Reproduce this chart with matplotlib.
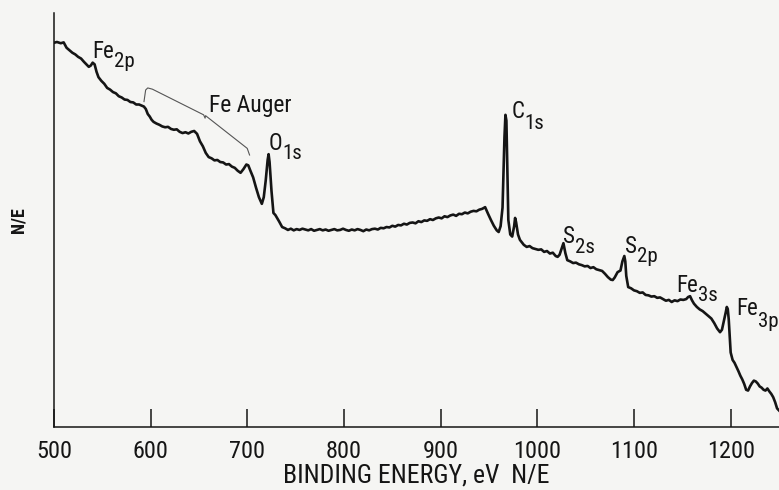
from matplotlib import pyplot as plt
from matplotlib import font_manager as fm

# spectrum (binding energy in eV, N/E in arbitrary units)
energia = [
    500, 503, 507, 510, 513, 516, 519, 522, 525, 528, 531, 534, 536, 538, 540, 542, 544, 546, 549,
    552, 555, 558, 561, 564, 567, 570, 573, 576, 579, 582, 585, 588, 591, 593, 595, 597, 599, 601,
    603, 606, 609, 612, 615, 618, 621, 624, 627, 630, 633, 636, 639, 642, 645, 648, 651, 654, 657,
    660, 663, 666, 669, 672, 675, 678, 681, 684, 687, 690, 693, 696, 699, 701, 703, 706, 709, 712,
    715, 717, 719, 721, 722, 723, 725, 727, 729, 731, 733, 736, 739, 742, 745, 748, 751, 754, 757,
    760, 763, 766, 769, 772, 775, 778, 781, 784, 787, 790, 793, 796, 799, 802, 805, 808, 811, 814,
    817, 820, 823, 826, 829, 832, 835, 838, 841, 844, 847, 850, 853, 856, 859, 862, 865, 868, 871,
    874, 877, 880, 883, 886, 889, 892, 895, 898, 901, 904, 907, 910, 913, 916, 919, 922, 925, 928,
    931, 934, 937, 940, 943, 946, 949, 952, 955, 958, 960, 962, 964, 965, 966, 967, 968, 969, 970,
    972, 974, 976, 977, 978, 980, 982, 984, 986, 989, 992, 995, 998, 1001, 1004, 1007, 1010, 1013,
    1016, 1019, 1021, 1023, 1025, 1027, 1029, 1031, 1034, 1037, 1040, 1043, 1046, 1049, 1052, 1055,
    1058, 1061, 1064, 1067, 1070, 1073, 1076, 1078, 1080, 1083, 1086, 1088, 1090, 1091, 1092, 1094,
    1097, 1100, 1103, 1106, 1109, 1112, 1115, 1118, 1121, 1124, 1127, 1130, 1133, 1136, 1139, 1142,
    1145, 1148, 1151, 1154, 1156, 1158, 1160, 1162, 1165, 1168, 1171, 1174, 1177, 1180, 1183, 1186,
    1189, 1191, 1193, 1195, 1196, 1197, 1198, 1199, 1200, 1202, 1204, 1206, 1208, 1210, 1212, 1214,
    1216, 1218, 1220, 1222, 1224, 1226, 1228, 1230, 1232, 1234, 1236, 1238, 1240, 1242, 1244, 1246,
    1248, 1250,
]

intensidade = [
    92.8, 93.0, 92.7, 92.9, 91.6, 91.0, 90.4, 90.0, 89.4, 89.0, 88.2, 87.5, 87.0, 87.3, 88.0, 87.6,
    85.8, 84.5, 83.6, 82.9, 81.9, 81.5, 80.9, 80.6, 79.9, 79.6, 79.1, 79.0, 78.5, 78.4, 77.9, 77.9,
    77.6, 77.4, 76.8, 75.6, 75.0, 74.2, 73.7, 73.3, 73.0, 72.6, 72.4, 72.5, 72.0, 71.8, 71.9, 71.3,
    71.0, 71.2, 70.9, 71.3, 71.5, 70.8, 69.0, 67.8, 66.2, 65.2, 64.9, 64.4, 64.5, 64.0, 63.9, 63.4,
    63.5, 62.9, 62.6, 61.9, 61.4, 62.3, 63.4, 63.2, 62.0, 60.3, 57.8, 55.5, 53.9, 55.5, 59.5, 64.5,
    65.9, 64.0, 57.0, 51.7, 51.2, 50.4, 49.6, 48.3, 48.0, 47.6, 47.9, 47.5, 47.8, 47.6, 47.9, 47.7,
    47.5, 47.8, 47.4, 47.6, 47.8, 47.5, 47.7, 47.4, 47.6, 47.8, 47.5, 47.6, 47.9, 47.6, 47.4, 47.7,
    47.5, 47.8, 47.6, 47.3, 47.7, 47.5, 47.8, 47.9, 47.7, 48.1, 48.0, 48.3, 48.2, 48.6, 48.4, 48.8,
    48.7, 49.1, 48.9, 49.3, 49.4, 49.2, 49.7, 49.5, 49.9, 49.8, 50.2, 50.0, 50.4, 50.6, 50.4, 50.9,
    50.7, 51.1, 51.3, 51.0, 51.5, 51.4, 51.8, 51.6, 52.0, 52.2, 52.1, 52.5, 52.7, 53.1, 51.5, 50.0,
    48.6, 47.5, 47.1, 48.5, 53.0, 62.0, 70.0, 75.4, 74.0, 62.0, 50.0, 46.5, 46.0, 48.5, 50.5, 49.5,
    46.5, 45.2, 44.6, 44.0, 43.5, 43.7, 43.2, 43.0, 42.8, 42.9, 42.3, 42.5, 41.9, 42.1, 41.3, 41.1,
    41.6, 43.0, 44.4, 42.0, 40.3, 40.0, 39.6, 39.7, 39.3, 39.1, 38.8, 38.9, 38.4, 38.6, 38.1, 37.9,
    37.7, 37.0, 36.2, 35.6, 35.5, 36.1, 37.4, 37.8, 40.0, 41.3, 40.0, 36.5, 33.8, 33.5, 33.0, 32.8,
    32.4, 32.5, 31.9, 31.8, 31.5, 31.6, 31.2, 31.3, 30.9, 30.5, 30.7, 30.2, 30.6, 30.4, 30.8, 30.7,
    30.9, 31.4, 31.6, 30.6, 29.8, 29.0, 28.4, 28.0, 27.4, 26.8, 26.2, 25.1, 23.8, 22.9, 23.5, 25.6,
    27.8, 29.0, 28.5, 26.0, 22.0, 18.0, 16.2, 15.5, 14.5, 13.5, 12.4, 11.5, 10.4, 9.0, 8.8, 9.8,
    10.6, 11.2, 11.0, 10.5, 9.8, 9.5, 9.0, 8.8, 9.3, 8.6, 8.0, 7.2, 6.0, 4.5, 4.0,
]

x_ticks = [500, 600, 700, 800, 900, 1000, 1100, 1200]

# peak labels: base, subscript, position (eV, N/E) of the base text baseline
picos_base = ['Fe', 'O', 'C', 'S', 'S', 'Fe', 'Fe']
picos_sub = ['2p', '1s', '1s', '2s', '2p', '3s', '3p']
picos_x = [540, 722, 973, 1027, 1091, 1144, 1206]
picos_y = [89.1, 66.9, 74.6, 44.4, 42.0, 32.6, 27.1]
picos_drop = [-6, -6, -7, -6, -6, -6, -8]

# bracket over the Fe Auger region
chave_x = [593.1, 594.8, 597.0, 601.8, 654.8, 656.3, 656.8, 699.9, 702.3]
chave_y = [78.6, 81.4, 81.9, 81.6, 75.4, 74.6, 75.2, 67.3, 65.7]

# condensed face if one is installed, otherwise Liberation Sans
nomes = {f.name for f in fm.fontManager.ttflist}
fonte = [n for n in ['Liberation Sans Narrow', 'DejaVu Sans Condensed', 'Roboto Condensed']
         if n in nomes] + ['Liberation Sans', 'DejaVu Sans']
esticar = 'normal'
if not any(n in nomes for n in ['Liberation Sans Narrow', 'DejaVu Sans Condensed', 'Roboto Condensed']):
    if any(f.name == 'Roboto' and f.stretch == 'condensed' for f in fm.fontManager.ttflist):
        fonte = ['Roboto', 'DejaVu Sans']
        esticar = 'condensed'

cor_linha = '#151515'
cor_fundo = '#f5f5f3'

fig = plt.figure(figsize=(7.79, 4.90), dpi=100, facecolor=cor_fundo)
ax = fig.add_axes([54 / 779, 63 / 490, 725 / 779, 414 / 490])
ax.set_facecolor(cor_fundo)

ax.plot(energia, intensidade, color=cor_linha, lw=1.9, solid_joinstyle='round')
ax.plot(chave_x, chave_y, color='#555555', lw=0.8)

ax.text(660, 76.1, 'Fe Auger', fontsize=17, family=fonte, stretch=esticar, color=cor_linha)

for base, sub, px, py, dy in zip(picos_base, picos_sub, picos_x, picos_y, picos_drop):
    t = ax.text(px, py, base, fontsize=16.5, family=fonte, stretch=esticar, color=cor_linha,
                va='baseline', ha='left')
    ax.annotate(sub, xy=(1, 0), xycoords=t, xytext=(0, dy), textcoords='offset points',
                fontsize=15, family=fonte, stretch=esticar, color=cor_linha,
                va='bottom', ha='left')

ax.set_xlim(500, 1250)
ax.set_ylim(0, 100)

ax.set_xticks(x_ticks)
ax.set_xticklabels([str(v) for v in x_ticks], family=fonte, stretch=esticar, fontsize=17.5,
                   color=cor_linha)
ax.set_yticks([])

ax.tick_params(axis='x', direction='in', length=13, width=1.1, pad=9, colors=cor_linha)

ax.set_xlabel('BINDING ENERGY, eV  N/E', family=fonte, stretch=esticar, fontsize=18.5,
              color=cor_linha, labelpad=1)
ax.set_ylabel('N/E', family=fonte, stretch=esticar, fontsize=13, fontweight='bold',
              color=cor_linha)
ax.yaxis.set_label_coords(-0.037, 0.5)

# remove top and right borders
ax.spines['right'].set_visible(False)
ax.spines['top'].set_visible(False)
ax.spines['left'].set_linewidth(1.1)
ax.spines['bottom'].set_linewidth(1.1)
ax.spines['left'].set_color(cor_linha)
ax.spines['bottom'].set_color(cor_linha)

fig.savefig('out.png', dpi=100, facecolor=cor_fundo)
